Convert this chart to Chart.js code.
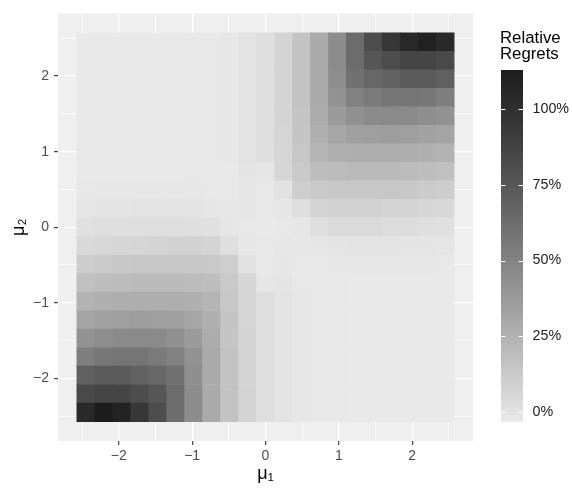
<!DOCTYPE html>
<html><head><meta charset="utf-8">
<script src="https://cdn.jsdelivr.net/npm/chart.js@4.4.1/dist/chart.umd.min.js"></script>
<style>html,body{margin:0;padding:0;background:#fff;}canvas{display:block;}</style>
</head><body>
<canvas id="c" width="572" height="492" style="width:572px;height:492px"></canvas>
<script>
// ---- data ----
const mu1 = [-2.45, -2.205, -1.96, -1.715, -1.47, -1.225, -0.98, -0.735, -0.49, -0.245, 0, 0.245, 0.49, 0.735, 0.98, 1.225, 1.47, 1.715, 1.96, 2.205, 2.45];
const mu2 = [-2.45, -2.205, -1.96, -1.715, -1.47, -1.225, -0.98, -0.735, -0.49, -0.245, 0, 0.245, 0.49, 0.735, 0.98, 1.225, 1.47, 1.715, 1.96, 2.205, 2.45];
// relative regret (%) : one row per mu2 value (bottom to top), one entry per mu1 value (left to right)
const regret = [
  [104, 112.9, 108, 95, 81, 63, 45, 29, 16, 7, 2, -0.5, -2.5, -3, -3.1, -3.2, -3.3, -3.3, -3.3, -3.3, -3.3],
  [84, 86, 86, 81, 76, 63, 45, 29, 16, 7, 2, -0.5, -2.5, -3, -3.1, -3.2, -3.3, -3.3, -3.3, -3.3, -3.3],
  [70, 73, 73, 69, 66, 60, 44, 29, 16, 7, 2, -0.5, -2.5, -3, -3.1, -3.2, -3.3, -3.3, -3.3, -3.3, -3.3],
  [53, 57, 58, 58, 55, 51, 42, 29, 16, 7, 2, -0.5, -2.5, -3, -3.1, -3.2, -3.3, -3.3, -3.3, -3.3, -3.3],
  [42, 44, 46, 46, 46, 43, 37, 28, 15, 7, 2, -0.5, -2.5, -3, -3.1, -3.2, -3.3, -3.3, -3.3, -3.3, -3.3],
  [32, 33, 35, 36, 35, 34, 31, 26, 15, 6.6, 2, -0.5, -2.5, -3, -3.1, -3.2, -3.3, -3.3, -3.3, -3.3, -3.3],
  [24, 26, 27, 27, 27, 27, 26, 23, 14, 6, 2, -0.5, -2.5, -3, -3.1, -3.2, -3.3, -3.3, -3.3, -3.3, -3.3],
  [17.4, 18.4, 19.6, 20.6, 20.6, 20.6, 19.6, 18.4, 13, 6, -2, -1, -2.8, -3, -3.1, -3.2, -3.3, -3.3, -3.3, -3.3, -3.3],
  [11, 12, 13.3, 13.6, 14, 14, 14, 13, 10, 0, -3, -2, -3, -3, -2.6, -2.5, -2.5, -2.5, -2.5, -2.6, -2.8],
  [4.5, 5.5, 6, 6.5, 7, 7.5, 7.5, 7, 1.5, -2.5, -3, -2.5, -2.5, -2, -1, -0.5, -0.5, -0.5, -1, -1, -1.5],
  [1, 2, 2, 2, 2, 2, 1.5, 1, -2, -3, -3.3, -3, -2, 1.5, 4, 4, 4, 3, 3, 2, 1],
  [-1.5, -1, -1, -0.5, -0.5, -0.5, -1, -2, -2.5, -2, -3, -2, 2, 7, 8, 8, 8, 7, 7, 6, 5],
  [-2.8, -2.5, -2.5, -2.5, -2.5, -2.5, -2.6, -2.8, -3, -2, -3, 0, 10, 13, 14, 14, 14, 13.6, 13.3, 12, 11],
  [-3.3, -3.3, -3.3, -3.3, -3.3, -3.2, -3.1, -3, -2.8, -1, -2, 6, 13, 18.4, 19.6, 20.6, 20.6, 20.6, 19.6, 18.4, 17.4],
  [-3.3, -3.3, -3.3, -3.3, -3.3, -3.2, -3.1, -3, -2.5, -0.5, 2, 6, 14, 23, 26, 27, 27, 27, 27, 26, 24],
  [-3.3, -3.3, -3.3, -3.3, -3.3, -3.2, -3.1, -3, -2.5, -0.5, 2, 6.6, 15, 26, 31, 34, 35, 36, 35, 33, 32],
  [-3.3, -3.3, -3.3, -3.3, -3.3, -3.2, -3.1, -3, -2.5, -0.5, 2, 7, 15, 28, 37, 43, 46, 46, 46, 44, 42],
  [-3.3, -3.3, -3.3, -3.3, -3.3, -3.2, -3.1, -3, -2.5, -0.5, 2, 7, 16, 29, 42, 51, 55, 58, 58, 57, 53],
  [-3.3, -3.3, -3.3, -3.3, -3.3, -3.2, -3.1, -3, -2.5, -0.5, 2, 7, 16, 29, 44, 60, 66, 69, 73, 73, 70],
  [-3.3, -3.3, -3.3, -3.3, -3.3, -3.2, -3.1, -3, -2.5, -0.5, 2, 7, 16, 29, 45, 63, 76, 81, 86, 86, 84],
  [-3.3, -3.3, -3.3, -3.3, -3.3, -3.2, -3.1, -3, -2.5, -0.5, 2, 7, 16, 29, 45, 63, 81, 95, 105, 110, 104]
];
const axisBreaks = [-2, -1, 0, 1, 2];
const legendBreaks = [0, 25, 50, 75, 100];
const legendLabels = ['0%', '25%', '50%', '75%', '100%'];
const fillLimits = [-3.3, 112.9];
const xTitle = 'μ₁';
const yTitle = 'μ₂';
const legendTitle = ['Relative', 'Regrets'];

// ---- styling ----
const FONT = "'Liberation Sans', Arial, sans-serif";
const L_LOW = 92.3, L_HIGH = 10.5;
function greyFor(v) {
  const t = (v - fillLimits[0]) / (fillLimits[1] - fillLimits[0]);
  const L = L_LOW - t * (L_LOW - L_HIGH);
  const fy = (L + 16) / 116;
  const Y = L > 8 ? fy * fy * fy : L / 903.3;
  const s = Y <= 0.0031308 ? 12.92 * Y : 1.055 * Math.pow(Y, 1 / 2.4) - 0.055;
  const g = Math.round(Math.max(0, Math.min(1, s)) * 255);
  return 'rgb(' + g + ',' + g + ',' + g + ')';
}
const cellW = mu1[1] - mu1[0];
const cellH = mu2[1] - mu2[0];
const xr = [mu1[0] - cellW / 2, mu1[mu1.length - 1] + cellW / 2];
const yr = [mu2[0] - cellH / 2, mu2[mu2.length - 1] + cellH / 2];
const xPad = (xr[1] - xr[0]) * 0.05, yPad = (yr[1] - yr[0]) * 0.05;

const datasets = mu2.map((y, r) => ({
  data: mu1.map(x => ({ x: x, y: [y - cellH / 2, y + cellH / 2] })),
  backgroundColor: regret[r].map(greyFor),
  borderWidth: 0,
  grouped: false,
  barPercentage: 1,
  categoryPercentage: 1
}));

const isMajor = v => axisBreaks.some(b => Math.abs(b - v) < 1e-9);
const fmt = v => (v < 0 ? '\u2212' + Math.abs(v) : String(v));

function axis(minv, maxv, title, titlePad) {
  return {
    type: 'linear', min: minv, max: maxv, offset: false,
    border: { display: false },
    grid: {
      offset: false,
      color: '#ffffff',
      lineWidth: c => isMajor(c.tick.value) ? 1.3 : 0.7,
      drawTicks: true, tickLength: 4,
      tickColor: c => isMajor(c.tick.value) ? '#333333' : 'rgba(0,0,0,0)',
      tickWidth: 1.1
    },
    ticks: {
      stepSize: 0.5, includeBounds: false, autoSkip: false, maxRotation: 0, padding: 3,
      color: '#4d4d4d', font: { family: FONT, size: 14 },
      callback: v => isMajor(v) ? fmt(Math.round(v)) : ''
    },
    title: { display: true, text: title, color: '#000', font: { family: FONT, size: 18 }, padding: titlePad }
  };
}

const panelBg = {
  id: 'panelBg',
  beforeDraw(chart) {
    const { ctx, chartArea: a } = chart;
    ctx.save();
    ctx.fillStyle = '#ffffff';
    ctx.fillRect(0, 0, chart.width, chart.height);
    ctx.fillStyle = '#efefef';
    ctx.fillRect(a.left, a.top, a.right - a.left, a.bottom - a.top);
    ctx.restore();
  }
};

const colorbar = {
  id: 'colorbar',
  afterDraw(chart) {
    const ctx = chart.ctx;
    const bx0 = 501, bx1 = 523, by0 = 70, by1 = 422;
    const pos = v => by1 - (v - fillLimits[0]) / (fillLimits[1] - fillLimits[0]) * (by1 - by0);
    ctx.save();
    for (let y = by0; y < by1; y++) {
      const v = fillLimits[1] - (y + 0.5 - by0) / (by1 - by0) * (fillLimits[1] - fillLimits[0]);
      ctx.fillStyle = greyFor(v);
      ctx.fillRect(bx0, y, bx1 - bx0, 1);
    }
    ctx.strokeStyle = '#ffffff';
    ctx.lineWidth = 1;
    const tl = (bx1 - bx0) / 5;
    legendBreaks.forEach(b => {
      const y = Math.round(pos(b)) + 0.5;
      ctx.beginPath();
      ctx.moveTo(bx0, y); ctx.lineTo(bx0 + tl, y);
      ctx.moveTo(bx1 - tl, y); ctx.lineTo(bx1, y);
      ctx.stroke();
    });
    ctx.fillStyle = '#222222';
    ctx.font = '14.3px ' + FONT;
    ctx.textAlign = 'left';
    ctx.textBaseline = 'middle';
    legendBreaks.forEach((b, k) => ctx.fillText(legendLabels[k], 532.5, pos(b)));
    ctx.fillStyle = '#000000';
    ctx.font = '16.8px ' + FONT;
    ctx.textBaseline = 'alphabetic';
    ctx.fillText(legendTitle[0], 500, 43);
    ctx.fillText(legendTitle[1], 500, 58.5);
    ctx.restore();
  }
};

const xAxis = axis(xr[0] - xPad, xr[1] + xPad, xTitle, { top: 0, bottom: 7 });
xAxis.afterFit = s => { s.height = 51; };
const yAxis = axis(yr[0] - yPad, yr[1] + yPad, yTitle, { top: 8, bottom: 0 });
yAxis.afterFit = s => { s.width = 58; };
yAxis.ticks.padding = 5;

new Chart(document.getElementById('c'), {
  type: 'bar',
  data: { datasets: datasets },
  options: {
    responsive: false,
    devicePixelRatio: 1,
    animation: false,
    layout: { padding: { left: 0, right: 99, top: 6, bottom: 0 } },
    plugins: { legend: { display: false }, tooltip: { enabled: false } },
    scales: { x: xAxis, y: yAxis }
  },
  plugins: [panelBg, colorbar]
});
</script>
</body></html>
